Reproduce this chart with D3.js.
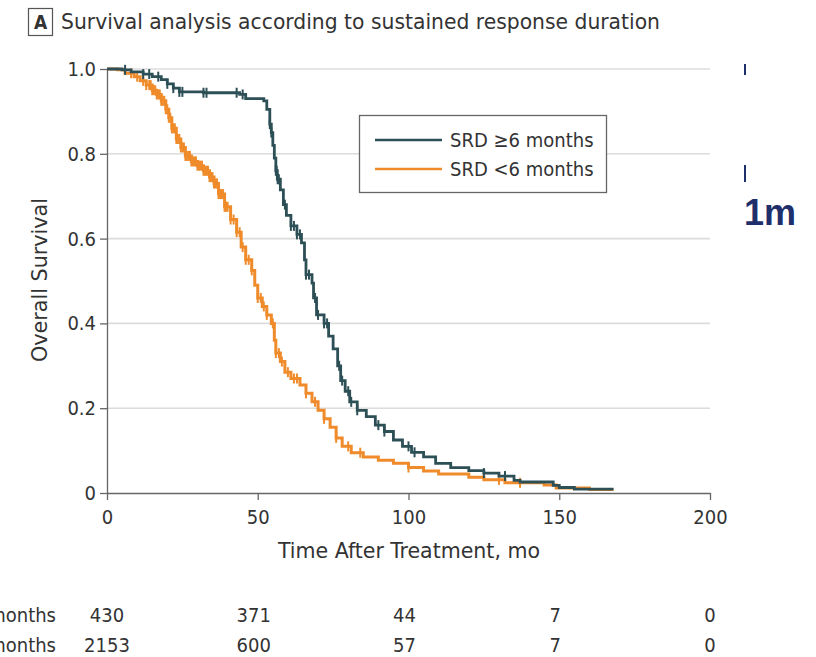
<!DOCTYPE html>
<html lang="en">
<head>
<meta charset="UTF-8">
<title>Survival analysis according to sustained response duration</title>
<script src="https://d3js.org/d3.v7.min.js"></script>
<style>
    body { margin: 0; background: #fff; }
    text { font-family: "Liberation Sans Narrow", "DejaVu Sans Condensed", "Open Sans", sans-serif; fill: #333; }
</style>
</head>
<body>
<script>
    const w = 816;
    const h = 657;

    // SRD >= 6 months: event times (mo) and survival after each step
    const highTime = [0, 5, 8, 12, 15, 18, 20, 22, 24, 32, 44, 46, 52, 53, 54, 54.5, 55, 55.5, 56, 56.5, 57.5, 58.5, 59.5, 61, 63, 64.5, 65.5, 66, 68, 68.5, 69.5, 72, 73.5, 75, 76.5, 77.5, 79, 80.5, 83, 86, 89, 92, 95, 98, 101, 105, 109, 114, 120, 125, 130, 135, 137, 148, 150, 155, 168];
    const highSurv = [1.0, 0.998, 0.993, 0.988, 0.982, 0.975, 0.965, 0.955, 0.946, 0.944, 0.94, 0.93, 0.925, 0.905, 0.87, 0.85, 0.82, 0.79, 0.76, 0.74, 0.715, 0.68, 0.655, 0.63, 0.61, 0.59, 0.55, 0.515, 0.495, 0.46, 0.42, 0.40, 0.37, 0.34, 0.30, 0.265, 0.24, 0.215, 0.195, 0.18, 0.16, 0.145, 0.125, 0.11, 0.096, 0.085, 0.07, 0.06, 0.053, 0.047, 0.04, 0.03, 0.026, 0.018, 0.013, 0.009, 0.009];
    const highCensor = [6, 12, 14, 17, 20, 22, 24, 25, 32, 33, 43, 45, 54, 54.5, 56, 56.3, 56.6, 57, 59, 61, 62, 63, 64, 66, 67, 69, 70, 72, 73, 77, 78, 80, 81, 83, 90, 92, 100, 102, 125, 132];

    // SRD < 6 months
    const lowTime = [0, 3.5, 6, 9, 11, 13, 15, 16.5, 18, 19.5, 20.5, 21.5, 23, 24.5, 26, 28, 30, 32, 34, 35.5, 37, 39, 41, 43, 44.5, 46, 48, 49, 50, 51.5, 53, 54.5, 55.5, 56, 57.5, 59, 61, 64, 66, 68, 70, 72, 74, 76, 78, 81, 85, 90, 95, 100, 105, 110, 120, 125, 132, 145, 149, 160, 168];
    const lowSurv = [1.0, 0.998, 0.99, 0.982, 0.972, 0.962, 0.95, 0.94, 0.925, 0.905, 0.885, 0.86, 0.835, 0.815, 0.795, 0.782, 0.772, 0.76, 0.745, 0.73, 0.705, 0.675, 0.645, 0.615, 0.58, 0.55, 0.525, 0.49, 0.46, 0.44, 0.42, 0.40, 0.36, 0.33, 0.31, 0.285, 0.27, 0.255, 0.235, 0.215, 0.195, 0.175, 0.155, 0.13, 0.11, 0.095, 0.085, 0.077, 0.07, 0.06, 0.052, 0.045, 0.037, 0.031, 0.024, 0.019, 0.012, 0.008, 0.008];
    const lowCensor = [8, 10, 12, 13, 14, 14.5, 15, 15.5, 16, 16.5, 17, 17.5, 18, 18.5, 19, 19.5, 20, 20.5, 21, 21.5, 22, 22.5, 23, 23.5, 24, 24.5, 25, 25.5, 26, 26.5, 27, 27.5, 28, 28.5, 29, 29.5, 30, 30.5, 31, 31.5, 32, 32.5, 33, 33.5, 34, 34.5, 35, 35.5, 36, 36.5, 37, 37.5, 38, 38.5, 39, 39.5, 40, 41, 42, 43, 44, 45, 46, 47, 48, 50, 51, 52, 53, 55, 56, 57, 58, 60, 62, 63, 66, 69, 72, 76, 80, 84, 100, 130, 137];

    // table under the chart
    const riskTimes = [0, 50, 100, 150, 200];
    const riskHigh = [430, 371, 44, 7, 0];
    const riskLow = [2153, 600, 57, 7, 0];
    const seriesNames = ["SRD \u22656 months", "SRD <6 months"];
    const yTicks = [0, 0.2, 0.4, 0.6, 0.8, 1.0];
    const xTicks = [0, 50, 100, 150, 200];

    const darkCol = "#2d4f56";
    const orangeCol = "#ef8b2a";

    const x = d3.scaleLinear().domain([0, 200]).range([107, 710]);
    const y = d3.scaleLinear().domain([0, 1]).range([493, 69]);

    const svg = d3.select("body").append("svg")
        .attr("width", w)
        .attr("height", h);

    // title with boxed letter
    svg.append("rect")
        .attr("x", 28.5).attr("y", 8.5)
        .attr("width", 24).attr("height", 27)
        .attr("fill", "#fff").attr("stroke", "#555").attr("stroke-width", 1.2);
    svg.append("text")
        .attr("x", 40.5).attr("y", 29)
        .attr("text-anchor", "middle")
        .style("font-size", "19px").style("font-weight", "bold")
        .text("A");
    svg.append("text")
        .attr("x", 61).attr("y", 29)
        .style("font-size", "21px")
        .attr("textLength", 599).attr("lengthAdjust", "spacingAndGlyphs")
        .text("Survival analysis according to sustained response duration");

    // gridlines
    svg.append("g").selectAll("line")
        .data(yTicks.filter(d => d > 0))
        .enter().append("line")
        .attr("x1", x(0)).attr("x2", x(200))
        .attr("y1", d => y(d)).attr("y2", d => y(d))
        .attr("stroke", "#dcdcdc").attr("stroke-width", 1.6);

    // axes
    const yAxis = d3.axisLeft(y).tickValues(yTicks)
        .tickFormat(d => d === 0 ? "0" : d3.format(".1f")(d))
        .tickSize(7).tickSizeOuter(0).tickPadding(4);
    const gy = svg.append("g").attr("transform", "translate(" + x(0) + ",0)").call(yAxis);

    const xAxis = d3.axisBottom(x).tickValues(xTicks)
        .tickSize(7).tickSizeOuter(0).tickPadding(10);
    const gx = svg.append("g").attr("transform", "translate(0," + y(0) + ")").call(xAxis);

    [gx, gy].forEach(g => {
        g.select(".domain").attr("stroke", "#666").attr("stroke-width", 1.3);
        g.selectAll(".tick line").attr("stroke", "#666").attr("stroke-width", 1.3);
        g.selectAll(".tick text").style("font-size", "20px").attr("fill", "#333")
            .style("font-family", "\"Liberation Sans Narrow\", \"DejaVu Sans Condensed\", sans-serif");
    });

    // axis titles
    svg.append("text")
        .attr("transform", "translate(47,280) rotate(-90)")
        .attr("text-anchor", "middle")
        .style("font-size", "21px")
        .attr("textLength", 164).attr("lengthAdjust", "spacingAndGlyphs")
        .text("Overall Survival");
    svg.append("text")
        .attr("x", 409).attr("y", 558)
        .attr("text-anchor", "middle")
        .style("font-size", "21px")
        .attr("textLength", 262).attr("lengthAdjust", "spacingAndGlyphs")
        .text("Time After Treatment, mo");

    // KM curves
    function drawCurve(times, surv, censor, col, sw) {
        const pts = times.map((t, i) => [t, surv[i]]);
        const line = d3.line()
            .x(d => x(d[0])).y(d => y(d[1]))
            .curve(d3.curveStepAfter);
        svg.append("path")
            .datum(pts)
            .attr("d", line)
            .attr("fill", "none")
            .attr("stroke", col)
            .attr("stroke-width", sw);

        const bis = d3.bisector(d => d).right;
        svg.append("g").selectAll("line")
            .data(censor)
            .enter().append("line")
            .attr("x1", d => x(d)).attr("x2", d => x(d))
            .attr("y1", d => y(surv[bis(times, d) - 1]) - 5)
            .attr("y2", d => y(surv[bis(times, d) - 1]) + 5)
            .attr("stroke", col)
            .attr("stroke-width", 2);
    }
    drawCurve(lowTime, lowSurv, lowCensor, orangeCol, 3);
    drawCurve(highTime, highSurv, highCensor, darkCol, 2.8);

    // legend
    const legend = svg.append("g");
    legend.append("rect")
        .attr("x", 359.5).attr("y", 115.5)
        .attr("width", 247).attr("height", 77)
        .attr("fill", "#fff").attr("stroke", "#666").attr("stroke-width", 1.3);
    [darkCol, orangeCol].forEach((c, i) => {
        legend.append("line")
            .attr("x1", 375).attr("x2", 442)
            .attr("y1", 140 + i * 29).attr("y2", 140 + i * 29)
            .attr("stroke", c).attr("stroke-width", 2.6);
        legend.append("text")
            .attr("x", 450).attr("y", 147 + i * 29)
            .style("font-size", "20px")
            .text(seriesNames[i]);
    });

    // number at risk table (labels run off the left edge, as in the source figure)
    [riskHigh, riskLow].forEach((row, r) => {
        svg.append("text")
            .attr("x", 56).attr("y", 622 + r * 30)
            .attr("text-anchor", "end")
            .style("font-size", "20px")
            .text(seriesNames[r]);
        svg.append("g").selectAll("text")
            .data(row)
            .enter().append("text")
            .attr("x", (d, i) => x(riskTimes[i]) - (i > 0 && i < 4 ? 4 : 0))
            .attr("y", 622 + r * 30)
            .attr("text-anchor", "middle")
            .style("font-size", "20px")
            .text(d => d);
    });

    // fragments of the neighbouring panel at the right edge
    svg.append("rect").attr("x", 744).attr("y", 64).attr("width", 2).attr("height", 11).attr("fill", "#1f2f6b");
    svg.append("rect").attr("x", 744).attr("y", 165).attr("width", 2).attr("height", 17).attr("fill", "#1f2f6b");
    svg.append("text")
        .attr("x", 744).attr("y", 225)
        .style("font-family", "\"Liberation Sans\", Arial, sans-serif")
        .style("font-size", "36px").style("font-weight", "bold")
        .style("fill", "#1f2f6b")
        .text("1m");
</script>
</body>
</html>
